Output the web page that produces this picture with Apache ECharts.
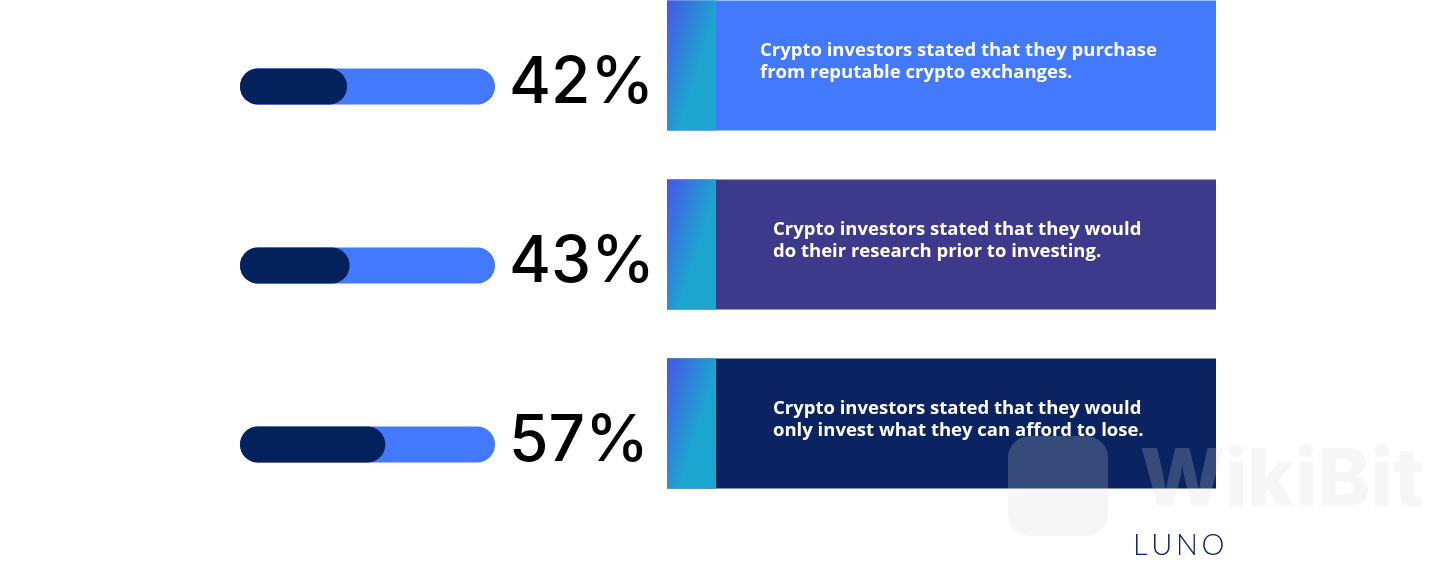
<!DOCTYPE html>
<html><head><meta charset="utf-8">
<script src="https://cdn.jsdelivr.net/npm/echarts@6/dist/echarts.min.js"></script>
<style>html,body{margin:0;padding:0;background:#fff}#c{width:1440px;height:564px}</style>
</head><body><div id="c"></div>
<script>
// ---- data ----
const categories = ['Reputable exchanges', 'Research first', 'Afford to lose'];
const percentValues = [42, 43, 57];
const trackValues = [100, 100, 100];
const statements = [
  'Crypto investors stated that they purchase\nfrom reputable crypto exchanges.',
  'Crypto investors stated that they would\ndo their research prior to investing.',
  'Crypto investors stated that they would\nonly invest what they can afford to lose.'
];
const boxColors = ['#4279ff', '#3d3a8b', '#0b2461'];

// ---- layout / style constants ----
const LAYOUT = {
  gridTop: -3, gridHeight: 537,
  barLeft: 240, barWidthPx: 255, barThickness: 36,
  boxLeft: 667, boxWidth: 549, boxHeight: 130, boxOffset: -86,
  stripWidth: 49, textLeft: [44, 57, 57], textCenter: 61
};

const chart = echarts.init(document.getElementById('c'), null, {renderer: 'canvas'});

const option = {
  backgroundColor: '#ffffff',
  animation: false,
  grid: [
    {left: LAYOUT.barLeft, width: LAYOUT.barWidthPx, top: LAYOUT.gridTop, height: LAYOUT.gridHeight, outerBoundsMode: 'none', containLabel: false},
    {left: LAYOUT.boxLeft, width: LAYOUT.boxWidth, top: LAYOUT.gridTop, height: LAYOUT.gridHeight, outerBoundsMode: 'none', containLabel: false}
  ],
  xAxis: [
    {type: 'value', gridIndex: 0, min: 0, max: 100, show: false},
    {type: 'value', gridIndex: 1, min: 0, max: 1, show: false}
  ],
  yAxis: [
    {type: 'category', gridIndex: 0, data: categories, inverse: true, show: false},
    {type: 'category', gridIndex: 1, data: categories, inverse: true, show: false}
  ],
  series: [
    {
      type: 'bar', xAxisIndex: 0, yAxisIndex: 0,
      data: trackValues, barWidth: LAYOUT.barThickness,
      itemStyle: {color: '#4279ff', borderRadius: 18},
      silent: true,
      label: {
        show: true, position: 'right', distance: 14,
        formatter: p => percentValues[p.dataIndex] + '%',
        fontFamily: 'Inter', fontSize: 64, fontWeight: 500, color: '#000000',
        offset: [0, -3]
      },
      z: 2
    },
    {
      type: 'bar', xAxisIndex: 0, yAxisIndex: 0,
      data: percentValues, barWidth: LAYOUT.barThickness, barGap: '-100%',
      itemStyle: {color: '#03215b', borderRadius: 18},
      silent: true,
      z: 3
    },
    {
      type: 'custom', xAxisIndex: 1, yAxisIndex: 1,
      data: categories.map((c, i) => [0, i]),
      encode: {x: 0, y: 1},
      silent: true,
      renderItem: function (params, api) {
        const i = params.dataIndex;
        const cs = params.coordSys;
        const cy = api.coord([0, api.value(1)])[1];
        const top = cy + LAYOUT.boxOffset;
        return {
          type: 'group',
          children: [
            {type: 'rect', shape: {x: cs.x, y: top, width: LAYOUT.boxWidth, height: LAYOUT.boxHeight},
              style: {fill: boxColors[i]}},
            {type: 'rect', shape: {x: cs.x, y: top, width: LAYOUT.stripWidth, height: LAYOUT.boxHeight},
              style: {fill: new echarts.graphic.LinearGradient(0, 0, 1, 0.12, [
                {offset: 0, color: '#4756e8'}, {offset: 1, color: '#1ca6cf'}])}},
            {type: 'text', x: cs.x + LAYOUT.stripWidth + LAYOUT.textLeft[i], y: top + LAYOUT.textCenter,
              style: {text: statements[i], fill: '#ffffff', fontFamily: 'Open Sans', fontWeight: 700,
                fontSize: 18.5, lineHeight: 22, align: 'left', verticalAlign: 'middle'}}
          ]
        };
      },
      z: 2
    }
  ],
  graphic: [
    {type: 'rect', left: 1008, top: 436, shape: {width: 100, height: 100, r: 22},
      style: {fill: 'rgba(215,215,215,0.22)'}, z: 50, silent: true},
    {type: 'text', left: 1140, top: 442, style: {text: 'WikiBit', fontFamily: 'Inter', fontWeight: 800,
      fontSize: 80, fill: 'rgba(215,215,215,0.22)'}, z: 50, silent: true},
    {type: 'text', left: 1133, top: 531, style: {text: 'L\u2009U\u2009N\u2009O', fontFamily: 'Lato', fontWeight: 300,
      fontSize: 29, fill: '#0b2461'}, z: 50, silent: true}
  ]
};
chart.setOption(option);
</script>
</body></html>
